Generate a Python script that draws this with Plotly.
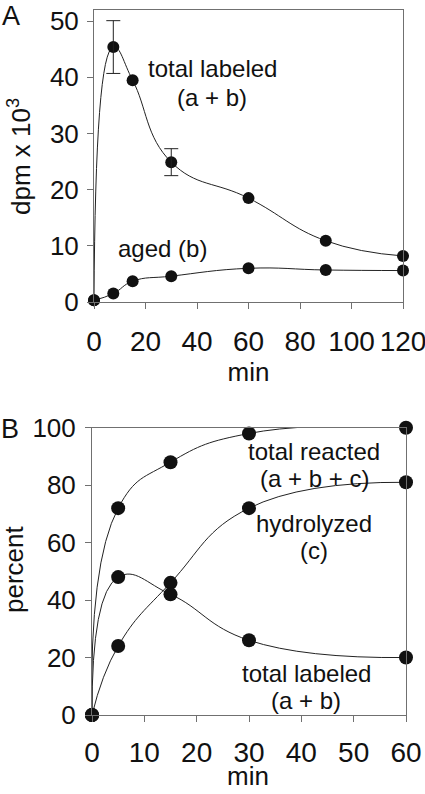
import plotly.graph_objects as go

# ---------------- Data: panel A ----------------
time_a = [0, 7.5, 15, 30, 60, 90, 120]
total_labeled_a = [0.3, 45.4, 39.5, 24.9, 18.5, 10.9, 8.2]
aged_a = [0.3, 1.5, 3.7, 4.6, 6.0, 5.7, 5.6]
err_time_a = [7.5, 30]
err_value_a = [45.4, 24.9]
err_size_a = [4.7, 2.4]
xticks_a = [0, 20, 40, 60, 80, 100, 120]
yticks_a = [0, 10, 20, 30, 40, 50]

# ---------------- Data: panel B ----------------
time_b = [0, 5, 15, 30, 60]
total_reacted_b = [0, 72, 88, 98, 100]
hydrolyzed_b = [0, 24, 46, 72, 81]
total_labeled_b = [0, 48, 42, 26, 20]
xticks_b = [0, 10, 20, 30, 40, 50, 60]
yticks_b = [0, 20, 40, 60, 80, 100]

FONT = "Liberation Sans, Arial, sans-serif"
TXT = "#111111"
AX = "#707070"
W, H = 425, 794

fig = go.Figure()

def curve(x, y, xa, ya, msize):
    fig.add_trace(go.Scatter(
        x=x, y=y, xaxis=xa, yaxis=ya, mode="lines+markers",
        line=dict(color="#222222", width=1, shape="spline", smoothing=1.3),
        marker=dict(color="#111111", size=msize),
        showlegend=False, cliponaxis=False, hoverinfo="x+y"))

curve(time_a, total_labeled_a, "x", "y", 12)
curve(time_a, aged_a, "x", "y", 12)
fig.add_trace(go.Scatter(
    x=err_time_a, y=err_value_a, xaxis="x", yaxis="y", mode="markers",
    marker=dict(color="rgba(0,0,0,0)", size=1),
    error_y=dict(type="data", array=err_size_a, color="#222222", thickness=1, width=7),
    showlegend=False, cliponaxis=False))

curve(time_b, total_reacted_b, "x2", "y2", 14)
curve(time_b, hydrolyzed_b, "x2", "y2", 14)
curve(time_b, total_labeled_b, "x2", "y2", 14)

def px_x(p):
    return p / W

def px_y(p):
    return 1 - p / H

def axis_style(tick_size, lab_standoff, title_standoff=0):
    return dict(
        showline=True, linecolor=AX, linewidth=1, mirror=True,
        ticks="outside", ticklen=6, tickcolor=AX, tickwidth=1,
        showgrid=False, zeroline=False,
        tickfont=dict(family=FONT, size=tick_size, color=TXT),
        title_font=dict(family=FONT, size=26, color=TXT),
        automargin=False, ticklabeloverflow="allow",
        ticklabelstandoff=lab_standoff, title_standoff=title_standoff,
    )

fig.update_layout(
    width=W, height=H,
    margin=dict(l=0, r=0, t=0, b=0),
    paper_bgcolor="white", plot_bgcolor="white",
    font=dict(family=FONT, color=TXT),
    xaxis=dict(domain=[px_x(94), px_x(403)], range=[0, 120], tickvals=xticks_a,
               anchor="y", title_text="min", **axis_style(28, 8, 7)),
    yaxis=dict(domain=[px_y(302), px_y(10)], range=[0, 52], tickvals=yticks_a,
               anchor="x", **axis_style(26, 3)),
    xaxis2=dict(domain=[px_x(92), px_x(406)], range=[0, 60], tickvals=xticks_b,
                anchor="y2", **axis_style(28, 6)),
    yaxis2=dict(domain=[px_y(715), px_y(427.7)], range=[0, 100], tickvals=yticks_b,
                anchor="x2", **axis_style(26, 4)),
)

def note(text, x, y, size=24, angle=0):
    fig.add_annotation(text=text, x=px_x(x), y=px_y(y), xref="paper", yref="paper",
                       showarrow=False, xanchor="center", yanchor="middle",
                       textangle=angle,
                       font=dict(family=FONT, size=size, color=TXT))

# axis titles drawn as text annotations
note("dpm x 10<sup>3</sup>", 20, 157, 26, -90)
note("percent", 14, 570, 26, -90)
note("min", 248, 776, 26)

# curve labels
note("total labeled", 212, 68)
note("(a + b)", 212, 98)
note("aged (b)", 162, 248)
note("total reacted", 314, 452)
note("(a + b + c)", 314, 478)
note("hydrolyzed", 314, 523)
note("(c)", 314, 550)
note("total labeled", 306, 673)
note("(a + b)", 306, 700)

# panel letters
note("A", 11, 16, 27)
note("B", 10, 429, 27)

fig.write_html("out.html", config={"displayModeBar": False},
               post_script="document.body.style.margin='0';")
